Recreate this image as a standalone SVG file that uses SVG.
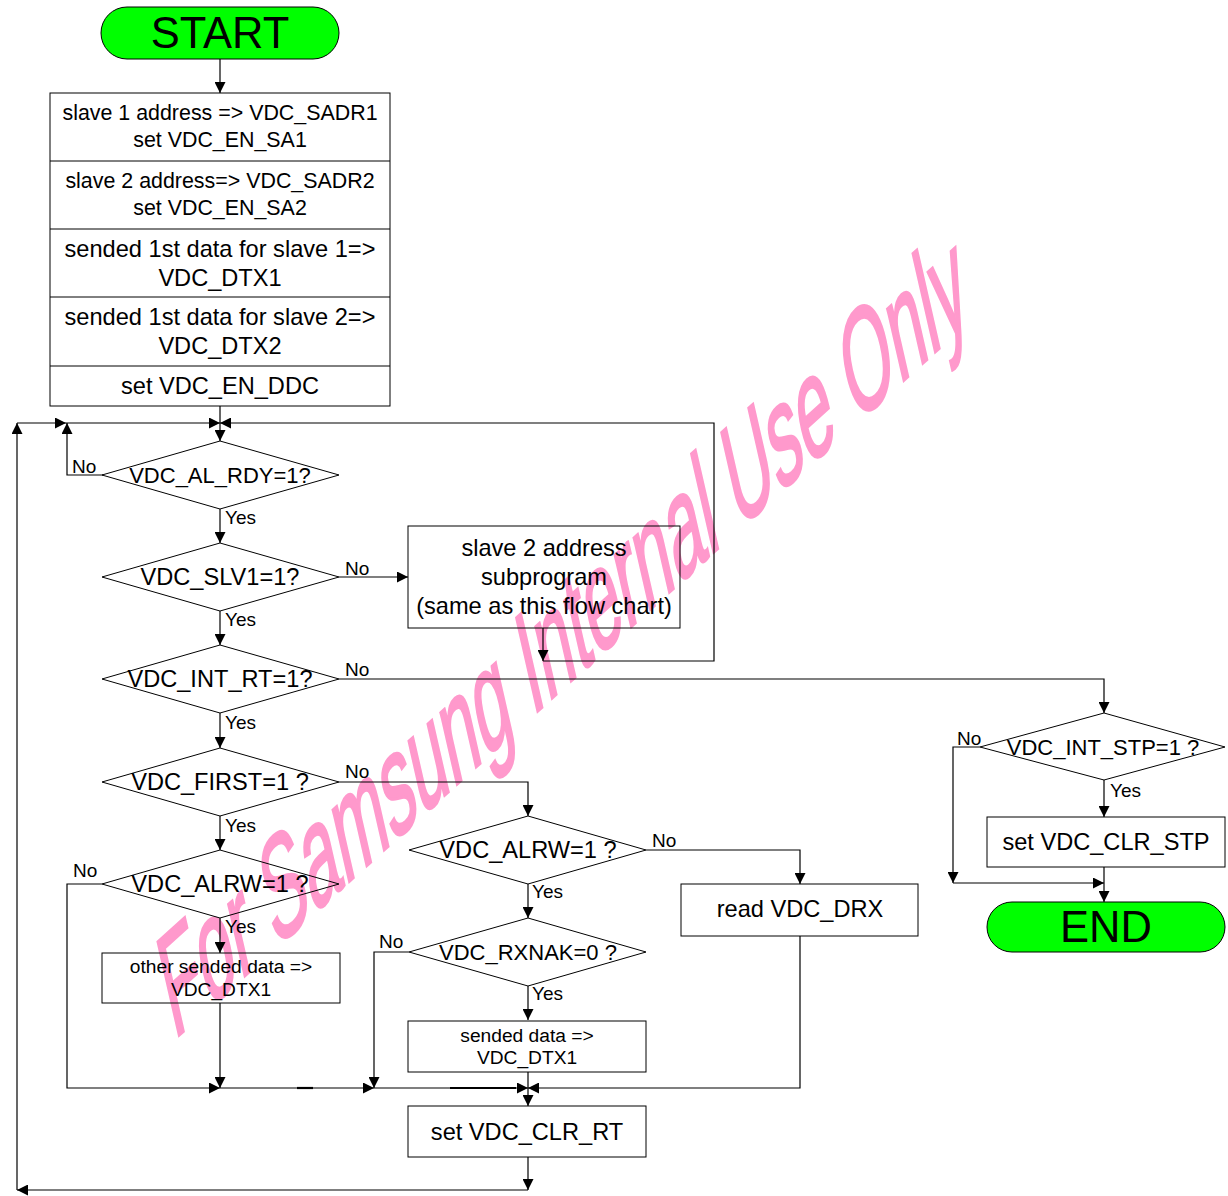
<svg xmlns="http://www.w3.org/2000/svg" width="1228" height="1196" viewBox="0 0 1228 1196">
<style>
text{font-family:"Liberation Sans",Arial,sans-serif;fill:#000}
.box{fill:none;stroke:#000;stroke-width:1}
.term{fill:#00FF00;stroke:#000;stroke-width:1}
.c{stroke:#000;stroke-width:1.2;fill:none}
.t21{font-size:21.4px;text-anchor:middle}
.t22{font-size:22px;text-anchor:middle}
.t24{font-size:23.6px;text-anchor:middle}
.t19{font-size:19.2px;text-anchor:middle}
.big{font-size:43.5px;text-anchor:middle}
.lbl{font-size:19px}
.wm{font-size:100px;fill:#FF99CC;stroke:#FF99CC;stroke-width:2.2}
</style>
<defs>
<marker id="a" viewBox="0 0 11 11" refX="11" refY="5.5" markerWidth="11" markerHeight="11" orient="auto" markerUnits="userSpaceOnUse">
<path d="M0,0 L11,5.5 L0,11 z" fill="#000"/>
</marker>
</defs>
<text class="wm" transform="matrix(0.57 -0.515 0.31 1.36 174 1040)">For Samsung Internal Use Only</text>

<g id="connectors">
<line class="c" x1="220" y1="59" x2="220" y2="93" marker-end="url(#a)"/>
<line class="c" x1="220" y1="406" x2="220" y2="441" marker-end="url(#a)"/>
<polyline class="c" points="103,475 67,475 67,423" marker-end="url(#a)"/>
<line class="c" x1="17" y1="423" x2="66" y2="423" marker-end="url(#a)"/>
<line class="c" x1="66" y1="423" x2="220" y2="423" marker-end="url(#a)"/>
<line class="c" x1="220" y1="509" x2="220" y2="543" marker-end="url(#a)"/>
<line class="c" x1="339" y1="577" x2="408" y2="577" marker-end="url(#a)"/>
<line class="c" x1="220" y1="611" x2="220" y2="645" marker-end="url(#a)"/>
<line class="c" x1="543" y1="628" x2="543" y2="661" marker-end="url(#a)"/>
<polyline class="c" points="543,661 714,661 714,423 220,423" marker-end="url(#a)"/>
<polyline class="c" points="339,679 1104,679 1104,713" marker-end="url(#a)"/>
<line class="c" x1="220" y1="713" x2="220" y2="748" marker-end="url(#a)"/>
<polyline class="c" points="339,782 528,782 528,816" marker-end="url(#a)"/>
<line class="c" x1="220" y1="816" x2="220" y2="850" marker-end="url(#a)"/>
<polyline class="c" points="102,884 67,884 67,1088 220,1088" marker-end="url(#a)"/>
<line class="c" x1="220" y1="918" x2="220" y2="953" marker-end="url(#a)"/>
<line class="c" x1="220" y1="1003" x2="220" y2="1088" marker-end="url(#a)"/>
<line class="c" x1="220" y1="1088" x2="374" y2="1088" marker-end="url(#a)"/>
<polyline class="c" points="409,952 374,952 374,1088" marker-end="url(#a)"/>
<line class="c" x1="374" y1="1088" x2="528" y2="1088" marker-end="url(#a)"/>
<polyline class="c" points="646,850 800,850 800,884" marker-end="url(#a)"/>
<line class="c" x1="528" y1="884" x2="528" y2="918" marker-end="url(#a)"/>
<line class="c" x1="528" y1="986" x2="528" y2="1020" marker-end="url(#a)"/>
<line class="c" x1="528" y1="1072" x2="528" y2="1106" marker-end="url(#a)"/>
<polyline class="c" points="800,936 800,1088 528,1088" marker-end="url(#a)"/>
<line class="c" x1="528" y1="1157" x2="528" y2="1190" marker-end="url(#a)"/>
<line class="c" x1="528" y1="1190" x2="17" y2="1190" marker-end="url(#a)"/>
<line class="c" x1="17" y1="1190" x2="17" y2="423" marker-end="url(#a)"/>
<polyline class="c" points="980,747 953,747 953,883" marker-end="url(#a)"/>
<line class="c" x1="953" y1="883" x2="1104" y2="883" marker-end="url(#a)"/>
<line class="c" x1="1104" y1="780" x2="1104" y2="817" marker-end="url(#a)"/>
<line class="c" x1="1104" y1="867" x2="1104" y2="902" marker-end="url(#a)"/>
<line x1="297" y1="1088" x2="313" y2="1088" stroke="#000" stroke-width="2.2"/>
<line x1="450" y1="1088" x2="516" y2="1088" stroke="#000" stroke-width="2.2"/>
</g>

<g id="start">
<rect class="term" x="101" y="7" width="238" height="52" rx="26"/>
<text class="big" x="220" y="48">START</text>
</g>
<g id="init">
<rect class="box" x="50" y="93" width="340" height="313"/>
<line class="box" x1="50" y1="161" x2="390" y2="161"/>
<line class="box" x1="50" y1="229" x2="390" y2="229"/>
<line class="box" x1="50" y1="297" x2="390" y2="297"/>
<line class="box" x1="50" y1="366" x2="390" y2="366"/>
<text class="t21" x="220" y="120">slave 1 address =&gt; VDC_SADR1</text>
<text class="t21" x="220" y="147">set VDC_EN_SA1</text>
<text class="t21" x="220" y="188">slave 2 address=&gt; VDC_SADR2</text>
<text class="t21" x="220" y="215">set VDC_EN_SA2</text>
<text class="t24" x="220" y="257">sended 1st data for slave 1=&gt;</text>
<text class="t24" x="220" y="286">VDC_DTX1</text>
<text class="t24" x="220" y="325">sended 1st data for slave 2=&gt;</text>
<text class="t24" x="220" y="354">VDC_DTX2</text>
<text class="t24" x="220" y="394">set VDC_EN_DDC</text>
</g>
<g id="d1">
<polygon class="box" points="102,475 220,441 339,475 220,509"/>
<text class="t22" x="220" y="483">VDC_AL_RDY=1?</text>
<text class="lbl" x="72" y="473">No</text>
<text class="lbl" x="225" y="524">Yes</text>
</g>
<g id="d2">
<polygon class="box" points="102,577 220,543 339,577 220,611"/>
<text class="t24" x="220" y="585">VDC_SLV1=1?</text>
<text class="lbl" x="345" y="575">No</text>
<text class="lbl" x="225" y="626">Yes</text>
</g>
<g id="sub">
<rect class="box" x="408" y="526" width="272" height="102"/>
<text class="t24" x="544" y="556">slave 2 address</text>
<text class="t24" x="544" y="585">subprogram</text>
<text class="t24" x="544" y="614">(same as this flow chart)</text>
</g>
<g id="d3">
<polygon class="box" points="102,679 220,645 339,679 220,713"/>
<text class="t24" x="220" y="687">VDC_INT_RT=1?</text>
<text class="lbl" x="345" y="676">No</text>
<text class="lbl" x="225" y="729">Yes</text>
</g>
<g id="d4">
<polygon class="box" points="102,782 220,748 339,782 220,816"/>
<text class="t24" x="220" y="790">VDC_FIRST=1 ?</text>
<text class="lbl" x="345" y="778">No</text>
<text class="lbl" x="225" y="832">Yes</text>
</g>
<g id="d5">
<polygon class="box" points="102,884 220,850 339,884 220,918"/>
<text class="t24" x="220" y="892">VDC_ALRW=1 ?</text>
<text class="lbl" x="73" y="877">No</text>
<text class="lbl" x="225" y="933">Yes</text>
</g>
<g id="other">
<rect class="box" x="102" y="953" width="238" height="50"/>
<text class="t19" x="221" y="973">other sended data =&gt;</text>
<text class="t19" x="221" y="996">VDC_DTX1</text>
</g>
<g id="d6">
<polygon class="box" points="409,850 528,816 646,850 528,884"/>
<text class="t24" x="528" y="858">VDC_ALRW=1 ?</text>
<text class="lbl" x="652" y="847">No</text>
<text class="lbl" x="532" y="898">Yes</text>
</g>
<g id="read">
<rect class="box" x="681" y="884" width="237" height="52"/>
<text class="t24" x="800" y="917">read VDC_DRX</text>
</g>
<g id="d7">
<polygon class="box" points="409,952 528,918 646,952 528,986"/>
<text class="t22" x="528" y="960">VDC_RXNAK=0 ?</text>
<text class="lbl" x="379" y="948">No</text>
<text class="lbl" x="532" y="1000">Yes</text>
</g>
<g id="sended">
<rect class="box" x="408" y="1021" width="238" height="51"/>
<text class="t19" x="527" y="1042">sended data =&gt;</text>
<text class="t19" x="527" y="1064">VDC_DTX1</text>
</g>
<g id="clrrt">
<rect class="box" x="408" y="1106" width="238" height="51"/>
<text class="t24" x="527" y="1140">set VDC_CLR_RT</text>
</g>
<g id="d8">
<polygon class="box" points="980,747 1104,713 1225,747 1104,780"/>
<text class="t22" x="1103" y="755">VDC_INT_STP=1 ?</text>
<text class="lbl" x="957" y="745">No</text>
<text class="lbl" x="1110" y="797">Yes</text>
</g>
<g id="clrstp">
<rect class="box" x="987" y="817" width="238" height="50"/>
<text class="t24" x="1106" y="850">set VDC_CLR_STP</text>
</g>
<g id="end">
<rect class="term" x="987" y="902" width="238" height="50" rx="25"/>
<text class="big" x="1106" y="942">END</text>
</g>
</svg>
